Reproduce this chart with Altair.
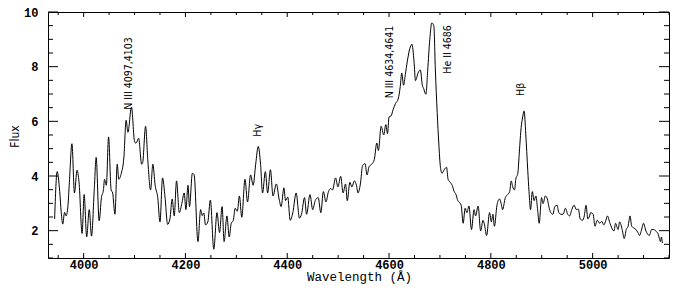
import altair as alt
import pandas as pd

# Spectrum (wavelength in Angstrom, flux)
wavelength = [
    3943, 3948, 3953, 3956, 3959, 3962.5, 3965.5, 3969, 3972, 3977,
    3982, 3987, 3991, 3997, 4001, 4006, 4011, 4015.5, 4021, 4024.6,
    4030.5, 4035, 4039, 4041, 4044.6, 4049, 4054, 4057, 4061.5, 4066,
    4069, 4074, 4079, 4083.5, 4087, 4094, 4100, 4103, 4108, 4114,
    4116, 4121.7, 4126, 4131.5, 4136, 4140.5, 4145.6, 4150, 4155, 4160,
    4165, 4169.5, 4174, 4178, 4182.5, 4188, 4193, 4197.5, 4201, 4205,
    4208, 4213.6, 4217, 4224.6, 4229.8, 4233, 4236, 4239.5, 4244, 4249,
    4255.7, 4262, 4267, 4272, 4276, 4281.5, 4286, 4290, 4294, 4297.7,
    4302, 4306, 4310.7, 4317, 4322, 4328, 4333, 4338, 4343, 4347.6,
    4351.5, 4357, 4361.5, 4367, 4372, 4378.6, 4384, 4388, 4393.5, 4396.6,
    4401, 4405.8, 4411, 4417.5, 4424, 4428, 4434, 4438, 4444.7, 4450,
    4455, 4460.8, 4466, 4471, 4476, 4481, 4485, 4489, 4495, 4499.6,
    4505, 4509.7, 4514.6, 4517.9, 4523, 4527, 4532, 4536, 4539, 4543.7,
    4548, 4553, 4556.7, 4561, 4566, 4571, 4576, 4579, 4584.5, 4589.6,
    4593.6, 4597, 4600, 4604, 4608, 4613, 4618, 4622, 4625, 4628.5,
    4632, 4636, 4640.8, 4645, 4649, 4652, 4657, 4661.5, 4665.4, 4668,
    4672.4, 4676, 4680, 4684, 4688, 4691, 4694.6, 4697.7, 4701, 4704,
    4709, 4713, 4716, 4720, 4724, 4728, 4731.6, 4735, 4738, 4741.7,
    4745.6, 4749.5, 4753, 4757, 4762, 4767, 4770, 4775, 4780, 4784.5,
    4787.6, 4791.6, 4797.5, 4801, 4804, 4807, 4812, 4817, 4821, 4823,
    4828.5, 4833, 4837, 4840, 4843, 4846.6, 4849, 4853, 4856, 4859.5,
    4862.6, 4865.4, 4868.6, 4872.5, 4875, 4878, 4881.5, 4885, 4888.6, 4891.6,
    4895, 4899.6, 4902.6, 4907, 4911, 4914, 4917.7, 4922, 4925.6, 4930,
    4933.5, 4938, 4942, 4946.3, 4951, 4955, 4959, 4963.7, 4968, 4972,
    4975.5, 4980, 4983.6, 4987, 4990.6, 4994, 4996, 5001, 5004.5, 5009,
    5014, 5017.7, 5022, 5026, 5029, 5034, 5037.5, 5042, 5045, 5050,
    5053, 5058, 5062, 5066, 5069.6, 5073.5, 5076.7, 5081, 5085, 5089,
    5092, 5097, 5100, 5104.6, 5108, 5111, 5116, 5120, 5124, 5128.6,
    5133.4, 5135, 5137,
]
flux = [
    2.43, 4.16, 3.43, 2.67, 2.24, 2.67, 2.54, 2.87, 3.77, 5.18,
    3.38, 4.21, 3.77, 1.90, 3.32, 1.77, 2.77, 1.80, 3.54, 4.68,
    2.36, 3.21, 3.50, 3.88, 3.66, 5.43, 3.49, 3.38, 2.60, 4.43,
    3.88, 4.10, 4.66, 6.04, 5.60, 6.52, 5.27, 5.20, 5.38, 4.43,
    4.49, 5.82, 4.60, 3.49, 4.43, 3.66, 3.21, 2.32, 3.93, 3.21,
    2.23, 2.43, 3.16, 2.54, 3.82, 2.66, 3.00, 3.38, 2.77, 3.66,
    2.88, 4.10, 4.05, 1.60, 2.77, 2.55, 2.65, 2.21, 2.32, 3.12,
    1.32, 2.66, 1.93, 2.88, 1.60, 2.54, 1.77, 2.27, 2.38, 2.82,
    2.71, 3.27, 2.49, 3.88, 3.05, 4.04, 3.66, 4.43, 5.08, 4.43,
    3.38, 4.16, 3.38, 4.23, 3.27, 3.71, 3.16, 2.88, 3.57, 3.10,
    3.23, 2.38, 2.66, 3.38, 2.46, 2.60, 3.21, 2.60, 3.32, 2.77,
    3.10, 3.21, 2.66, 3.43, 3.05, 3.43, 3.54, 3.49, 3.93, 3.60,
    3.99, 3.38, 3.71, 3.10, 3.77, 3.60, 3.82, 3.66, 3.38, 3.71,
    4.38, 4.45, 4.04, 4.35, 4.43, 4.60, 5.21, 4.93, 5.82, 5.50,
    5.88, 5.55, 6.16, 6.20, 6.43, 6.66, 6.82, 7.27, 7.77, 7.32,
    7.71, 8.21, 8.66, 8.82, 8.21, 7.49, 7.77, 7.88, 7.32, 7.20,
    6.99, 7.88, 8.99, 9.60, 9.50, 7.88, 6.32, 5.21, 4.32, 4.10,
    4.25, 4.32, 3.88, 3.77, 3.66, 3.43, 3.32, 3.10, 3.04, 2.93,
    2.27, 2.82, 2.66, 2.90, 2.04, 2.77, 2.54, 2.90, 1.99, 2.38,
    2.21, 1.82, 2.66, 2.32, 2.60, 2.16, 2.93, 3.16, 2.93, 2.77,
    3.21, 3.32, 3.43, 3.82, 3.60, 3.49, 3.88, 4.10, 4.88, 5.77,
    6.16, 6.38, 5.54, 4.21, 3.43, 2.77, 3.43, 3.10, 3.27, 2.82,
    2.27, 3.21, 2.99, 3.27, 3.16, 2.88, 2.66, 2.60, 2.88, 2.93,
    2.66, 2.60, 2.60, 2.82, 2.60, 2.54, 2.77, 2.93, 2.77, 2.79,
    2.43, 2.38, 2.54, 2.93, 2.43, 2.54, 2.66, 2.60, 2.16, 2.38,
    2.27, 2.34, 2.21, 2.38, 2.54, 2.27, 2.10, 1.99, 2.27, 2.04,
    2.32, 2.04, 1.71, 2.04, 2.16, 2.54, 2.16, 2.10, 2.04, 1.93,
    1.82, 2.10, 2.27, 1.99, 1.88, 1.82, 2.04, 2.04, 1.99, 1.88,
    1.60, 1.77, 1.55,
]

# Line identifications
line_labels = ["N III 4097,4103", "H\u03b3", "N III 4634,4641", "He II 4686", "H\u03b2"]
label_wavelength = [4089, 4342.5, 4601, 4715.5, 4859.5]
label_flux = [7.75, 5.67, 8.17, 8.63, 7.17]

# Axis ticks
x_major = [4000, 4200, 4400, 4600, 4800, 5000]
x_minor = [3950, 4050, 4100, 4150, 4250, 4300, 4350, 4450, 4500, 4550, 4650,
           4700, 4750, 4850, 4900, 4950, 5050, 5100, 5150]
y_major = [2, 4, 6, 8, 10]
y_minor = [1, 1.5, 2.5, 3, 3.5, 4.5, 5, 5.5, 6.5, 7, 7.5, 8.5, 9, 9.5]

W, H = 621, 246
X0, X1 = 3930, 5150
Y0, Y1 = 1, 10
PX_X = W / (X1 - X0)   # pixels per Angstrom
PX_Y = H / (Y1 - Y0)   # pixels per flux unit

df = pd.DataFrame({"wavelength": wavelength, "flux": flux})
lab = pd.DataFrame({"wavelength": label_wavelength, "flux": label_flux,
                    "text": line_labels})

xscale = alt.Scale(domain=[X0, X1], nice=False, zero=False)
yscale = alt.Scale(domain=[Y0, Y1], nice=False, zero=False)

narrow = "'Liberation Sans Narrow', 'DejaVu Sans Condensed', 'Liberation Sans', sans-serif"
mono = "'Liberation Mono', 'DejaVu Sans Mono', monospace"

# Spectrum with labelled axes (ticks drawn separately, pointing inward)
line = alt.Chart(df).mark_line(color="black", strokeWidth=1, interpolate="monotone").encode(
    x=alt.X("wavelength:Q", scale=xscale, axis=alt.Axis(
        orient="bottom", values=x_major, format="d", ticks=False, tickSize=0,
        domain=False, grid=False, labelFont=mono, labelFontWeight="bold",
        labelFontSize=12, labelPadding=6, labelBaseline="middle",
        labelFlush=False, labelOverlap=False, labelColor="black",
        title="Wavelength (\u00c5)", titleFont=mono, titleFontSize=12.5,
        titleFontWeight="normal", titleColor="black", titleX=311, titleY=18.5,
        titleBaseline="middle", titleAlign="center")),
    y=alt.Y("flux:Q", scale=yscale, axis=alt.Axis(
        orient="left", values=y_major, format="d", ticks=False, tickSize=0,
        domain=False, grid=False, labelFont=mono, labelFontWeight="bold",
        labelFontSize=12, labelPadding=10, labelBaseline="middle",
        labelFlush=False, labelOverlap=False, labelColor="black",
        title="Flux", titleFont=narrow, titleFontSize=12,
        titleFontWeight="normal", titleColor="black", titleAngle=270,
        titleX=-34, titleY=124, titleBaseline="middle", titleAlign="center")),
)

# Line identifications, rotated
text = alt.Chart(lab).mark_text(angle=270, align="center", baseline="middle",
                                font=narrow, fontSize=10.5, color="black").encode(
    x=alt.X("wavelength:Q", scale=xscale, axis=None),
    y=alt.Y("flux:Q", scale=yscale, axis=None),
    text="text:N",
)


# Inward tick marks on all four edges, drawn through the data scales
def xticks(values, edge, length_px):
    d = pd.DataFrame({"v": values})
    d["e"] = edge
    d["e2"] = edge + (length_px / PX_Y if edge == Y0 else -length_px / PX_Y)
    return alt.Chart(d).mark_rule(color="black", strokeWidth=1).encode(
        x=alt.X("v:Q", scale=xscale, axis=None),
        y=alt.Y("e:Q", scale=yscale, axis=None),
        y2="e2:Q")


def yticks(values, edge, length_px):
    d = pd.DataFrame({"v": values})
    d["e"] = edge
    d["e2"] = edge + (length_px / PX_X if edge == X0 else -length_px / PX_X)
    return alt.Chart(d).mark_rule(color="black", strokeWidth=1).encode(
        y=alt.Y("v:Q", scale=yscale, axis=None),
        x=alt.X("e:Q", scale=xscale, axis=None),
        x2="e2:Q")


tick_layers = [
    xticks(x_major, Y1, 5), xticks(x_minor, Y1, 3),
    xticks(x_major, Y0, 5), xticks(x_minor, Y0, 3),
    yticks(y_major, X0, 10), yticks(y_minor, X0, 5),
    yticks(y_major, X1, 10), yticks(y_minor, X1, 5),
]

chart = alt.layer(*tick_layers, line, text).resolve_axis(
    x="independent", y="independent"
).properties(
    width=W, height=H,
    padding={"left": 40, "top": 4, "right": 1, "bottom": 26},
    autosize=alt.AutoSizeParams(type="none"),
).configure_view(stroke="black", strokeWidth=1)

chart.save("out.html", embed_options={"renderer": "svg", "actions": False})
